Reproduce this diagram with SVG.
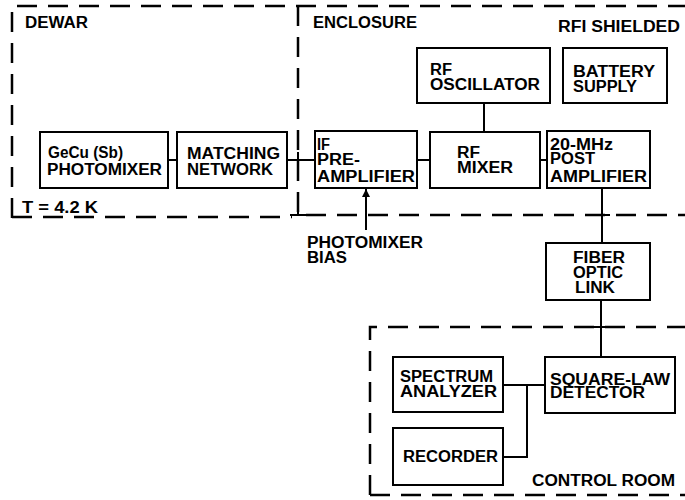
<svg xmlns="http://www.w3.org/2000/svg" width="685" height="500" viewBox="0 0 685 500">
<style>
.bx{fill:#fff;stroke:#000;stroke-width:2}
.ln{fill:none;stroke:#000;stroke-width:2}
.dash{fill:none;stroke:#000;stroke-width:2.5;stroke-dasharray:20 11}
text{font-family:"Liberation Sans",Arial,sans-serif;font-weight:bold;font-size:16px;fill:#000}
</style>
<defs>
<marker id="ah" viewBox="0 0 10 10" refX="10" refY="5" markerWidth="4" markerHeight="4" orient="auto">
<path d="M0,0 L10,5 L0,10 z" fill="#000"/>
</marker>
</defs>
<rect width="685" height="500" fill="#fff"/>
<g id="boundaries">
<path class="dash" d="M12,218 L12,6 L685,6"/>
<path class="dash" d="M12,217 L292,217"/>
<path class="dash" d="M306,215 L685,215"/>
<path class="dash" d="M298,6 L298,215"/>
<path class="ln" d="M290,215 L306,215 M298,208 L298,216"/>
<path class="dash" d="M370,495 L370,327 L685,327"/>
<path class="dash" d="M370,495 L685,495"/>
<text x="25" y="28" textLength="63" lengthAdjust="spacingAndGlyphs">DEWAR</text>
<text x="22" y="213" textLength="76" lengthAdjust="spacingAndGlyphs">T = 4.2 K</text>
<text x="313" y="28" textLength="104" lengthAdjust="spacingAndGlyphs">ENCLOSURE</text>
<text x="558" y="32" textLength="122" lengthAdjust="spacingAndGlyphs">RFI SHIELDED</text>
<text x="532" y="486" textLength="143" lengthAdjust="spacingAndGlyphs">CONTROL ROOM</text>
</g>
<g id="connectors">
<path class="ln" d="M168,160 L177,160"/>
<path class="ln" d="M287,160 L315,160"/>
<path class="ln" d="M298,152 L298,168"/>
<path class="ln" d="M417,160 L430,160"/>
<path class="ln" d="M540,160 L547,160"/>
<path class="ln" d="M484,103 L484,132"/>
<path class="ln" d="M602,188 L602,243"/>
<path class="ln" d="M594,215 L610,215"/>
<path class="ln" d="M601,300 L601,357"/>
<path class="ln" d="M593,327 L609,327"/>
<path class="ln" d="M503,385 L545,385"/>
<path class="ln" d="M527,385 L527,457 L503,457"/>
<path class="ln" d="M366,230 L366,189" marker-end="url(#ah)"/>
</g>
<g id="photomixer-bias">
<text x="307" y="248" textLength="116" lengthAdjust="spacingAndGlyphs">PHOTOMIXER</text>
<text x="307" y="263" textLength="40" lengthAdjust="spacingAndGlyphs">BIAS</text>
</g>
<g id="photomixer">
<rect class="bx" x="40" y="132" width="128" height="56"/>
<text x="48" y="158" textLength="75" lengthAdjust="spacingAndGlyphs">GeCu (Sb)</text>
<text x="47" y="175" textLength="115" lengthAdjust="spacingAndGlyphs">PHOTOMIXER</text>
</g>
<g id="matching-network">
<rect class="bx" x="177" y="132" width="110" height="56"/>
<text x="187" y="159" textLength="93" lengthAdjust="spacingAndGlyphs">MATCHING</text>
<text x="187" y="175" textLength="86" lengthAdjust="spacingAndGlyphs">NETWORK</text>
</g>
<g id="if-preamplifier">
<rect class="bx" x="315" y="131" width="102" height="57"/>
<text x="317" y="150" textLength="13" lengthAdjust="spacingAndGlyphs">IF</text>
<text x="317" y="165" textLength="43" lengthAdjust="spacingAndGlyphs">PRE-</text>
<text x="317" y="182" textLength="98" lengthAdjust="spacingAndGlyphs">AMPLIFIER</text>
</g>
<g id="rf-mixer">
<rect class="bx" x="430" y="132" width="110" height="56"/>
<text x="457" y="158" textLength="23" lengthAdjust="spacingAndGlyphs">RF</text>
<text x="457" y="173" textLength="56" lengthAdjust="spacingAndGlyphs">MIXER</text>
</g>
<g id="post-amplifier">
<rect class="bx" x="547" y="131" width="103" height="57"/>
<text x="550" y="150" textLength="63" lengthAdjust="spacingAndGlyphs">20-MHz</text>
<text x="550" y="164" textLength="45" lengthAdjust="spacingAndGlyphs">POST</text>
<text x="550" y="182" textLength="97" lengthAdjust="spacingAndGlyphs">AMPLIFIER</text>
</g>
<g id="rf-oscillator">
<rect class="bx" x="417" y="48" width="133" height="55"/>
<text x="430" y="75" textLength="22" lengthAdjust="spacingAndGlyphs">RF</text>
<text x="430" y="90" textLength="110" lengthAdjust="spacingAndGlyphs">OSCILLATOR</text>
</g>
<g id="battery-supply">
<rect class="bx" x="563" y="48" width="104" height="55"/>
<text x="573" y="77" textLength="82" lengthAdjust="spacingAndGlyphs">BATTERY</text>
<text x="573" y="92" textLength="64" lengthAdjust="spacingAndGlyphs">SUPPLY</text>
</g>
<g id="fiber-optic-link">
<rect class="bx" x="546" y="243" width="104" height="57"/>
<text x="573" y="263" textLength="52" lengthAdjust="spacingAndGlyphs">FIBER</text>
<text x="573" y="278" textLength="50" lengthAdjust="spacingAndGlyphs">OPTIC</text>
<text x="575" y="293" textLength="40" lengthAdjust="spacingAndGlyphs">LINK</text>
</g>
<g id="spectrum-analyzer">
<rect class="bx" x="393" y="357" width="110" height="55"/>
<text x="400" y="382" textLength="93" lengthAdjust="spacingAndGlyphs">SPECTRUM</text>
<text x="400" y="397" textLength="97" lengthAdjust="spacingAndGlyphs">ANALYZER</text>
</g>
<g id="square-law-detector">
<rect class="bx" x="545" y="357" width="130" height="56"/>
<text x="550" y="385" textLength="120" lengthAdjust="spacingAndGlyphs">SQUARE-LAW</text>
<text x="550" y="398" textLength="95" lengthAdjust="spacingAndGlyphs">DETECTOR</text>
</g>
<g id="recorder">
<rect class="bx" x="393" y="428" width="110" height="57"/>
<text x="403" y="462" textLength="95" lengthAdjust="spacingAndGlyphs">RECORDER</text>
</g>
</svg>
